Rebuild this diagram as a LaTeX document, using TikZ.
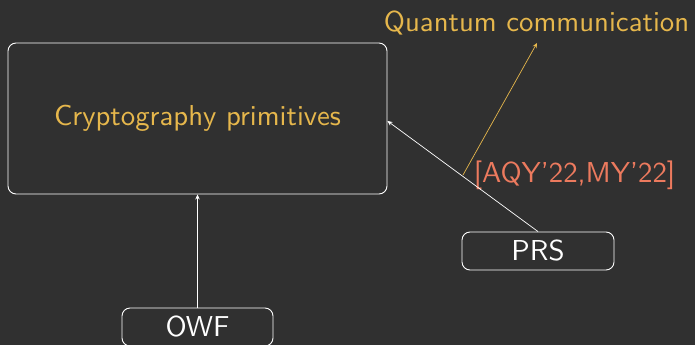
\documentclass[tikz,border=0pt]{standalone}
\usepackage{graphicx}
\usetikzlibrary{arrows.meta,calc}
\definecolor{bgc}{HTML}{303030}
\definecolor{goldc}{HTML}{E6B74C}
\definecolor{salmonc}{HTML}{EC7A5E}
\newcommand{\bigtxt}[1]{\scalebox{2.88}{\fontsize{10}{12}\selectfont\sffamily #1}}
\tikzset{
  roundbox/.style={draw=white, line width=0.9pt, rounded corners=8pt, inner sep=0pt},
  conn/.style={line width=0.7pt, -{Stealth[length=5pt,width=4.5pt]}},
}
\begin{document}
\begin{tikzpicture}[x=1pt,y=-1pt]
  \fill[bgc] (0,0) rectangle (695,345);
  \useasboundingbox (0,0) rectangle (695,345);
  \begin{scope}
  \clip (0,0) rectangle (695,345);
  \node[roundbox, text=goldc, minimum width=379pt, minimum height=151pt] (crypto) at (197.5,118.5) {\bigtxt{Cryptography primitives}};
  \node[roundbox, text=white, minimum width=152pt, minimum height=38pt] (prs) at (538,251) {\bigtxt{PRS}};
  \node[roundbox, text=white, minimum width=151pt, minimum height=38pt] (owf) at (197.5,327) {\bigtxt{OWF}};
  \node[text=goldc, anchor=base, inner sep=0pt] (quantum) at (536.5,32) {\bigtxt{Quantum communication}};
  \node[text=salmonc, anchor=base, inner sep=0pt] (cite) at (574.5,182.5) {\bigtxt{[AQY'22,MY'22]}};
  \coordinate (citestart) at (463,175);
  \coordinate (qtip) at (537,43);
  \draw[conn, white] (owf.north) -- (crypto.south);
  \draw[conn, white] (prs.north) -- ($(crypto.east)+(0,2.5)$);
  \draw[conn, goldc] (citestart) -- (qtip);
  \end{scope}
\end{tikzpicture}
\end{document}
